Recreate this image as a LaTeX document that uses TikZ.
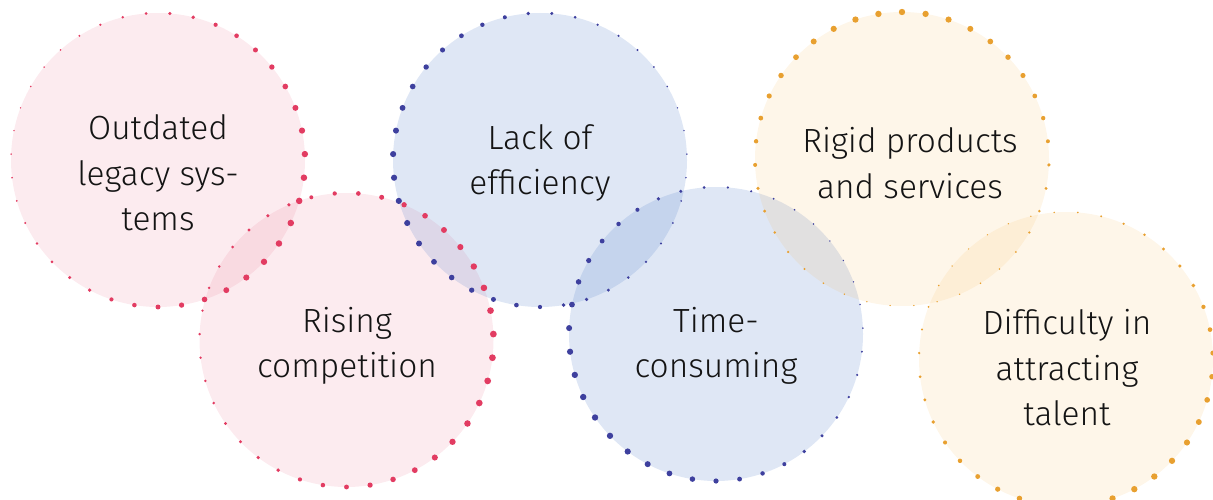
\documentclass[tikz,border=0pt]{standalone}
\usepackage{fontspec}
\setmainfont{Fira Sans Light}
\definecolor{pinkbase}{RGB}{226,60,100}
\definecolor{bluebase}{RGB}{95,135,205}
\definecolor{yellowbase}{RGB}{245,165,40}
\definecolor{pinkdot}{HTML}{E23C62}
\definecolor{bluedot}{HTML}{3E409E}
\definecolor{yellowdot}{HTML}{E8A030}
\definecolor{txt}{HTML}{141414}
\tikzset{
  bubble/.style={circle, draw=none, inner sep=0pt, minimum size=294pt},
  pinkbubble/.style={bubble, fill=pinkbase, fill opacity=0.1},
  bluebubble/.style={bubble, fill=bluebase, fill opacity=0.2},
  yellowbubble/.style={bubble, fill=yellowbase, fill opacity=0.1},
  label/.style={align=center, text=txt, font=\fontsize{33.5}{45.5}\selectfont, inner sep=0pt}
}
\begin{document}
\begin{tikzpicture}[x=1pt,y=-1pt]
\useasboundingbox (0,0) rectangle (1213,500);
% bubbles
\node[pinkbubble]   (c1) at (158,160) {};
\node[pinkbubble]   (c2) at (346.5,340) {};
\node[bluebubble]   (c3) at (540,160) {};
\node[bluebubble]   (c4) at (716,334) {};
\node[yellowbubble] (c5) at (902,159) {};
\node[yellowbubble] (c6) at (1066,359) {};
% dotted outlines with varying dot size
\foreach \cx/\cy/\col/\amax/\ph/\rmin/\rspan in {
  158/160/pinkdot/-20/270/0.8/2.5,
  346.5/340/pinkdot/-5/270/1.3/2.1,
  540/160/bluedot/190/270/0.8/2.3,
  716/334/bluedot/210/270/0.8/2.4,
  902/159/yellowdot/95/90/0.7/2.5,
  1066/359/yellowdot/-60/270/0.7/2.5}{
  \foreach \k in {0,...,38}{
    \pgfmathsetmacro{\a}{\ph+\k*360/39}
    \pgfmathsetmacro{\r}{\rmin+\rspan*(1+cos(\a-\amax))/2}
    \fill[\col] ({\cx+147*cos(\a)},{\cy-147*sin(\a)}) circle[radius=\r];
  }
}
% labels
\node[label] (t1) at (158,173) {Outdated\\legacy sys-\\tems};
\node[label] (t2) at (347,346) {Rising\\competition};
\node[label] (t3) at (540,163) {Lack of\\efficiency};
\node[label] (t4) at (716,346) {Time-\\consuming};
\node[label] (t5) at (910,163) {Rigid products\\and services};
\node[label] (t6) at (1067,368) {Difficulty in\\attracting\\talent};
\end{tikzpicture}
\end{document}
